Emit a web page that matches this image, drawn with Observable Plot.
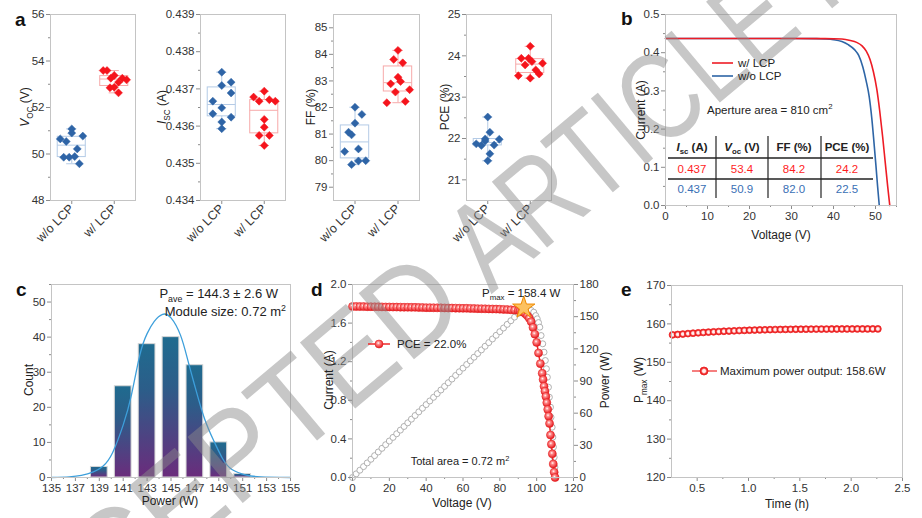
<!DOCTYPE html>
<html>
<head>
<meta charset="utf-8">
<script src="https://cdn.jsdelivr.net/npm/d3@7"></script>
<script src="https://cdn.jsdelivr.net/npm/@observablehq/plot@0.6"></script>
<style>
html,body{margin:0;padding:0;background:#fff;}
#fig{position:relative;width:922px;height:518px;overflow:hidden;background:#fff;font-family:"Liberation Sans",Arial,sans-serif;}
</style>
</head>
<body>
<svg width="0" height="0" style="position:absolute">
<defs>
<linearGradient id="barGrad" x1="0" y1="0" x2="0" y2="1">
<stop offset="0" stop-color="#1f6b8f"/><stop offset="0.35" stop-color="#2c5d89"/><stop offset="1" stop-color="#6b2c7c"/>
</linearGradient>
<radialGradient id="sphere" cx="0.42" cy="0.38" r="0.62">
<stop offset="0" stop-color="#ffffff"/><stop offset="0.3" stop-color="#ff8a8a"/><stop offset="1" stop-color="#e3161c"/>
</radialGradient>
<radialGradient id="ring" cx="0.5" cy="0.5" r="0.5">
<stop offset="0" stop-color="#ffffff"/><stop offset="0.4" stop-color="#ffdede"/><stop offset="0.7" stop-color="#f23a3a"/><stop offset="1" stop-color="#e8161c"/>
</radialGradient>
</defs>
</svg>
<div id="fig"></div>
<script>
// ---------------- data ----------------
const groups = ["w/o LCP", "w/ LCP"];

const vocWo = [51.08, 50.90, 50.77, 50.65, 50.54, 50.22, 49.86, 49.86, 49.89, 49.58];
const vocWoJit = [0, 0, 0.26, -0.27, -0.13, 0.13, -0.19, -0.06, 0.07, 0.18];
const vocW = [53.59, 53.59, 53.38, 53.26, 53.26, 53.19, 53.09, 52.87, 52.85, 52.63];
const vocWJit = [-0.26, -0.17, 0, -0.08, 0.19, 0.29, 0.10, 0, -0.10, 0.10];

const iscWo = [0.43745, 0.43718, 0.43709, 0.43689, 0.43667, 0.43649, 0.43633, 0.43624, 0.43611, 0.43593];
const iscWoJit = [0, 0.22, 0, 0.22, -0.21, 0, -0.21, 0.22, 0, 0];
const iscW = [0.43694, 0.43678, 0.43667, 0.43671, 0.43667, 0.43618, 0.43597, 0.43575, 0.43575, 0.43548];
const iscWJit = [0, -0.25, -0.12, 0.12, 0.26, 0, 0, -0.12, 0.12, 0];

const ffWo = [82.01, 81.74, 81.41, 81.07, 80.97, 80.44, 80.34, 79.99, 80.00, 79.85];
const ffWoJit = [0, 0.16, 0, -0.15, -0.08, 0.08, -0.24, 0.08, 0.25, -0.08];
const ffW = [84.15, 83.81, 83.68, 83.14, 82.98, 82.89, 82.67, 82.58, 82.18, 82.23];
const ffWJit = [0, -0.10, 0.11, 0, 0.06, -0.17, 0.27, -0.06, -0.26, 0.17];

const pceWo = [22.52, 22.15, 21.98, 21.99, 21.87, 21.83, 21.94, 21.84, 21.63, 21.46];
const pceWoJit = [0, 0.05, 0.27, -0.06, -0.27, -0.15, -0.06, 0.15, 0.05, 0];
const pceW = [24.23, 23.94, 23.94, 23.86, 23.82, 23.78, 23.66, 23.56, 23.52, 23.46];
const pceWJit = [0, -0.21, -0.04, 0.04, 0.29, -0.12, 0.13, 0.21, -0.28, 0];

// panel b : I-V of small modules
const ivWithV = [0, 10, 20, 30, 38, 42, 44, 45.5, 46.8, 47.8, 48.7, 49.5, 50.3, 51.0, 51.7, 52.3, 52.9, 53.4];
const ivWithI = [0.437, 0.437, 0.437, 0.437, 0.4368, 0.4358, 0.432, 0.427, 0.418, 0.404, 0.382, 0.350, 0.305, 0.248, 0.180, 0.115, 0.050, 0];
const ivWoV = [0, 10, 20, 30, 36, 38, 40, 42, 43.5, 45, 46, 47, 47.8, 48.5, 49.1, 49.6, 50.1, 50.5, 50.9];
const ivWoI = [0.437, 0.437, 0.437, 0.437, 0.4368, 0.436, 0.434, 0.429, 0.421, 0.408, 0.393, 0.362, 0.325, 0.285, 0.230, 0.170, 0.105, 0.050, 0];
const tableHead = ["Isc (A)", "Voc (V)", "FF (%)", "PCE (%)"];
const tableWith = ["0.437", "53.4", "84.2", "24.2"];
const tableWithout = ["0.437", "50.9", "82.0", "22.5"];

// panel c : histogram
const powerBins = [139, 141, 143, 145, 147, 149, 151];
const binCounts = [3, 26, 38, 40, 32, 10, 1];
const fitPower = [135, 136.5, 137.5, 138.5, 139.3, 140.1, 141.0, 141.7, 142.4, 143.0, 143.6, 144.3, 145.0, 145.8, 146.4, 147.0, 147.8, 148.6, 149.3, 150.1, 151.3, 152.5, 155];
const fitCount = [0, 0.2, 0.6, 1.6, 3.2, 7.0, 15.0, 23.7, 35.0, 41.0, 44.5, 46.5, 45.5, 40.5, 33.5, 26.0, 16.8, 10.3, 5.5, 2.3, 0.7, 0.2, 0];

// panel d : large module I-V and P-V
const dVolt = [0,2,4,6,8,10,12,14,16,18,20,22,24,26,28,30,32,34,36,38,40,42,44,46,48,50,52,54,56,58,60,62,64,66,68,70,72,74,76,78,80,82,84,86,88,
  90,91,92,93,94,95,96,97,98,99,100,101,102,103,103.5,104,104.5,105,105.5,106,106.5,107,107.5,108,108.5,109,109.5,110];
const dCurr = [1.772,1.772,1.771,1.771,1.770,1.770,1.769,1.769,1.768,1.767,
  1.767,1.766,1.766,1.765,1.764,1.764,1.763,1.763,1.762,1.761,
  1.760,1.760,1.759,1.758,1.758,1.757,1.756,1.756,1.755,1.754,
  1.753,1.753,1.752,1.751,1.750,1.749,1.748,1.747,1.746,1.745,
  1.744,1.742,1.740,1.738,1.735,
  1.730,1.726,1.720,1.710,1.695,1.675,1.650,1.615,1.555,1.485,1.400,1.290,1.180,1.080,
  1.015,0.945,0.895,0.840,0.775,0.705,0.635,0.560,0.440,0.345,0.245,0.140,0.055,0.0];
const pVolt = [0,2,4,6,8,10,12,14,16,18,20,22,24,26,28,30,32,34,36,38,40,42,44,46,48,50,52,54,56,58,60,62,64,66,68,70,72,74,76,78,80,82,84,86,88,90,92,
  93,94,95.7,97,98.4,99.5,100.3,101,101.7,102.4,103.3,104,104.7,105.3,105.8,106.4,106.9,107.5,107.8,108.4,108.8,109.1,109.5,109.9,110.1];
const pPower = [0,3.4,6.8,10.2,13.6,17.0,20.4,23.8,27.2,30.6,34.0,37.4,40.8,44.2,47.6,51.0,54.4,57.8,61.2,64.6,68.0,71.4,74.8,78.2,81.6,85.0,88.4,91.8,95.2,98.6,102.0,105.4,108.8,112.2,115.6,119.0,122.4,125.8,129.2,132.6,136.0,139.4,142.8,146.2,149.6,153.0,156.4,
  158.4,158.2,157.3,155.8,154.2,151.0,148.0,144.5,140.2,132.4,124.7,116.9,109.1,101.4,93.5,84.2,74.9,65.6,56.2,46.9,37.6,28.3,18.9,9.6,0.3];
const pMaxPoint = {v: 93, p: 158.4};

// panel e : maximum power tracking
const eTime = [0.26,0.31,0.36,0.41,0.46,0.51,0.56,0.61,0.66,0.71,0.76,0.81,0.86,0.91,0.96,1.01,1.06,1.11,1.16,1.21,1.26,1.31,1.36,1.41,1.46,1.51,1.56,1.61,1.66,1.71,1.76,1.81,1.86,1.91,1.96,2.01,2.06,2.11,2.16,2.21,2.26];
const ePmax = [157.15,157.25,157.36,157.47,157.58,157.68,157.77,157.86,157.94,158.01,158.08,158.14,158.20,158.26,158.31,158.36,158.40,158.44,158.47,158.50,158.53,158.55,158.57,158.59,158.61,158.62,158.63,158.64,158.65,158.66,158.66,158.67,158.67,158.68,158.68,158.68,158.69,158.69,158.69,158.70,158.70];

// ---------------- helpers ----------------
const FONT = "Liberation Sans, Arial, sans-serif";
const fig = document.getElementById("fig");
const baseStyle = {background: "transparent", fontFamily: FONT, fontSize: "11.5px", color: "#333", overflow: "visible"};
const AX = {stroke: "#8c8c8c", fill: "#333", tickSize: 4, tickPadding: 2, label: null};
const FRAME = Plot.frame({stroke: "#c4c4c4"});
function minorY(ticks, anchor = "left") { return Plot.axisY({anchor, ticks, tickSize: 2, stroke: "#8c8c8c", fill: "none", label: null}); }
function minorX(ticks) { return Plot.axisX({ticks, tickSize: 2, stroke: "#8c8c8c", fill: "none", label: null}); }
function place(svg, left, top) {
  svg.style.position = "absolute"; svg.style.left = left + "px"; svg.style.top = top + "px";
  fig.appendChild(svg); return svg;
}
function boxMarks(vals, jit, idx, light, dark) {
  const s = vals.slice().sort(d3.ascending);
  const st = [{i: idx, q1: d3.quantile(s, 0.25), md: d3.quantile(s, 0.5), q3: d3.quantile(s, 0.75), lo: s[0], hi: s[s.length - 1]}];
  const hw = 0.33, cw = 0.12;
  return [
    Plot.rect(st, {x1: d => d.i - hw, x2: d => d.i + hw, y1: "q1", y2: "q3", fill: "none", stroke: light}),
    Plot.ruleY(st, {y: "md", x1: d => d.i - hw, x2: d => d.i + hw, stroke: light}),
    Plot.ruleX(st, {x: "i", y1: "q3", y2: "hi", stroke: light}),
    Plot.ruleX(st, {x: "i", y1: "lo", y2: "q1", stroke: light}),
    Plot.ruleY(st, {y: "hi", x1: d => d.i - cw, x2: d => d.i + cw, stroke: light}),
    Plot.ruleY(st, {y: "lo", x1: d => d.i - cw, x2: d => d.i + cw, stroke: light}),
    Plot.dot(vals, {x: (d, k) => idx + jit[k], y: d => d, symbol: "diamond2", r: 3.6, fill: dark, stroke: dark, strokeWidth: 0.5})
  ];
}
function range(a, b, s) { const out = []; for (let v = a; v <= b + s / 1000; v += s) out.push(+v.toFixed(6)); return out; }

// ---------------- panel a ----------------
function panelA(left, width, ml, dom, major, minor, fmt, wo, woJ, w, wJ) {
  const p = Plot.plot({
    width, height: 260, marginLeft: ml, marginRight: 10, marginTop: 14, marginBottom: 60,
    x: {domain: [0.5, 2.5]}, y: {domain: dom},
    style: baseStyle,
    marks: [
      ...boxMarks(wo, woJ, 1, "#b4cbe6", "#2e64a6"),
      ...boxMarks(w, wJ, 2, "#f7a9a9", "#f5141c"),
      Plot.axisY({...AX, ticks: major, tickFormat: fmt}),
      minorY(minor),
      Plot.axisX({...AX, ticks: [1, 2], tickFormat: i => groups[i - 1], tickRotate: -45, fontSize: 12.5}),
      FRAME
    ]
  });
  place(p, left, 0);
}
panelA(0, 145, 50, [48, 56], range(48, 56, 2), range(49, 55, 2), d => String(d), vocWo, vocWoJit, vocW, vocWJit);
panelA(145, 150, 55, [0.434, 0.439], range(0.434, 0.439, 0.001), range(0.4345, 0.4385, 0.001), d3.format(".3f"), iscWo, iscWoJit, iscW, iscWJit);
panelA(295, 134, 38, [78.5, 85.5], range(79, 85, 1), range(79.5, 84.5, 1), d => String(d), ffWo, ffWoJit, ffW, ffWJit);
panelA(429, 132, 37, [20.5, 25], range(21, 25, 1), range(21.5, 24.5, 1), d => String(d), pceWo, pceWoJit, pceW, pceWJit);

// ---------------- panel b ----------------
const bWith = ivWithV.map((v, k) => ({v, i: ivWithI[k]}));
const bWo = ivWoV.map((v, k) => ({v, i: ivWoI[k]}));
place(Plot.plot({
  width: 312, height: 250, marginLeft: 55, marginRight: 26, marginTop: 14, marginBottom: 45,
  x: {domain: [0, 55]}, y: {domain: [0, 0.5]},
  style: baseStyle,
  marks: [
    Plot.line(bWo, {x: "v", y: "i", stroke: "#2e65a6", strokeWidth: 1.6, curve: "monotone-x"}),
    Plot.line(bWith, {x: "v", y: "i", stroke: "#ee1c25", strokeWidth: 1.6, curve: "monotone-x"}),
    Plot.axisY({...AX, ticks: range(0, 0.5, 0.1), tickFormat: d3.format(".1f")}),
    minorY(range(0.05, 0.45, 0.1)),
    Plot.axisX({...AX, ticks: range(0, 50, 10)}),
    minorX(range(5, 55, 10)),
    FRAME
  ]
}), 610, 0);

// ---------------- panel c ----------------
const bins = powerBins.map((p, k) => ({p, n: binCounts[k]}));
const fit = fitPower.map((x, k) => ({x, y: fitCount[k]}));
place(Plot.plot({
  width: 300, height: 248, marginLeft: 51, marginRight: 10, marginTop: 14, marginBottom: 41,
  x: {domain: [135, 155]}, y: {domain: [0, 55]},
  style: baseStyle,
  marks: [
    Plot.rect(bins, {x1: d => d.p - 0.7, x2: d => d.p + 0.7, y1: 0, y2: "n", fill: "url(#barGrad)", stroke: "#d6d6d6", strokeWidth: 1}),
    Plot.line(fit, {x: "x", y: "y", curve: "natural", stroke: "#3d9fdb", strokeWidth: 1.3}),
    Plot.axisY({...AX, ticks: range(0, 50, 10)}),
    minorY(range(5, 55, 10)),
    Plot.axisX({...AX, ticks: range(135, 155, 2)}),
    minorX(range(136, 154, 2)),
    FRAME
  ]
}), 0, 270);

// ---------------- panel d ----------------
const dIV = dVolt.map((v, k) => ({v, i: dCurr[k]}));
const dPV = pVolt.map((v, k) => ({v, p: pPower[k]}));
const dOpts = {width: 310, height: 248, marginLeft: 52, marginRight: 37, marginTop: 14, marginBottom: 41, style: baseStyle};
place(Plot.plot({
  ...dOpts, x: {domain: [0, 120], axis: null}, y: {domain: [0, 180]},
  marks: [
    Plot.dot(dPV, {x: "v", y: "p", r: 3, fill: "white", stroke: "#a8a8a8", strokeWidth: 0.9}),
    Plot.axisY({...AX, anchor: "right", ticks: range(0, 180, 30)}),
    minorY(range(15, 165, 30), "right")
  ]
}), 300, 270);
place(Plot.plot({
  ...dOpts, x: {domain: [0, 120]}, y: {domain: [0, 2]},
  marks: [
    Plot.line(dIV, {x: "v", y: "i", stroke: "#ee2a2a", strokeWidth: 1.5}),
    Plot.dot(dIV, {x: "v", y: "i", r: 4, fill: "url(#sphere)", stroke: "#e52020", strokeWidth: 0.6}),
    Plot.axisY({...AX, ticks: range(0, 2, 0.4), tickFormat: d3.format(".1f")}),
    minorY(range(0.2, 1.8, 0.4)),
    Plot.axisX({...AX, ticks: range(0, 120, 20)}),
    minorX(range(10, 110, 20)),
    FRAME
  ]
}), 300, 270);
place(Plot.plot({
  ...dOpts, x: {domain: [0, 120], axis: null}, y: {domain: [0, 180], axis: null},
  marks: [
    Plot.dot([pMaxPoint], {x: "v", y: "p", symbol: "star", r: 7, fill: "#fcc160", stroke: "#f08a00", strokeWidth: 1})
  ]
}), 300, 270);

// ---------------- panel e ----------------
const eData = eTime.map((t, k) => ({t, p: ePmax[k]}));
place(Plot.plot({
  width: 312, height: 248, marginLeft: 61, marginRight: 20, marginTop: 15, marginBottom: 41,
  x: {domain: [0.25, 2.5]}, y: {domain: [120, 170]},
  style: baseStyle,
  marks: [
    Plot.line(eData, {x: "t", y: "p", stroke: "#ee2a2a", strokeWidth: 1.2}),
    Plot.dot(eData, {x: "t", y: "p", r: 3.4, fill: "url(#ring)", stroke: "#ec1f1f", strokeWidth: 0.8}),
    Plot.axisY({...AX, ticks: range(120, 170, 10)}),
    minorY(range(125, 165, 10)),
    Plot.axisX({...AX, ticks: range(0.5, 2.5, 0.5), tickFormat: d3.format(".1f")}),
    minorX(range(0.75, 2.25, 0.5)),
    FRAME
  ]
}), 610, 270);

// ---------------- annotations overlay ----------------
const ann = d3.select(fig).append("svg")
  .attr("width", 922).attr("height", 518)
  .style("position", "absolute").style("left", "0px").style("top", "0px")
  .style("pointer-events", "none").style("font-family", FONT);

function rich(x, y, parts, {size = 12, anchor = "start", rotate = 0, fill = "#222", weight = "normal"} = {}) {
  const t = ann.append("text")
    .attr("transform", `translate(${x},${y}) rotate(${rotate})`)
    .attr("text-anchor", anchor).attr("font-size", size).attr("fill", fill).attr("font-weight", weight);
  let shift = 0;
  for (const p of parts) {
    const [s, f = ""] = Array.isArray(p) ? p : [p, ""];
    const flags = f.split(" ");
    const target = flags.includes("sub") ? size * 0.3 : flags.includes("sup") ? -size * 0.4 : 0;
    const ts = t.append("tspan").text(s);
    if (target !== shift) { ts.attr("dy", target - shift); shift = target; }
    if (flags.includes("sub") || flags.includes("sup")) ts.attr("font-size", size * 0.68);
    if (flags.includes("i")) ts.attr("font-style", "italic");
    if (flags.includes("b")) ts.attr("font-weight", "bold");
  }
  return t;
}
const LBL = {size: 12, anchor: "middle", fill: "#222"};
const ROT = {...LBL, rotate: -90};

// watermark
const wm = ann.append("g").attr("fill", "#8a8a8a").attr("fill-opacity", 0.48).attr("font-size", 125).attr("font-family", FONT);
wm.append("text").attr("transform", "translate(481,303) rotate(-40) scale(0.92,1)").attr("x", -15).attr("text-anchor", "end").text("ACCEPTED");
wm.append("text").attr("transform", "translate(481,303) rotate(-40) scale(0.78,1)").attr("x", 17).attr("text-anchor", "start").text("ARTICLE PREVIEW");

// panel letters
[["a", 15, 26], ["b", 621, 25], ["c", 16, 296], ["d", 311, 296], ["e", 621, 296]]
  .forEach(([s, x, y]) => rich(x, y, [s], {size: 19, weight: "bold", fill: "#111"}));

// panel a labels
rich(29, 107, [["V", "i"], ["OC", "sub"], " (V)"], ROT);
rich(166, 107, [["I", "i"], ["SC", "sub"], " (A)"], ROT);
rich(315, 107, ["FF (%)"], ROT);
rich(449, 107, ["PCE (%)"], ROT);

// panel b
rich(645, 110, ["Current (A)"], ROT);
rich(781, 239, ["Voltage (V)"], LBL);
ann.append("line").attr("x1", 712).attr("x2", 733).attr("y1", 63).attr("y2", 63).attr("stroke", "#ee1c25").attr("stroke-width", 1.6);
ann.append("line").attr("x1", 712).attr("x2", 733).attr("y1", 76).attr("y2", 76).attr("stroke", "#2e65a6").attr("stroke-width", 1.6);
rich(738, 67, [groups[1]], {size: 11.5});
rich(738, 80, [groups[0]], {size: 11.5});
rich(707, 114, ["Aperture area = 810 cm", ["2", "sup"]], {size: 11.5});
[716, 768, 821].forEach(x => ann.append("line").attr("x1", x).attr("x2", x).attr("y1", 136).attr("y2", 198).attr("stroke", "#333").attr("stroke-width", 1.3));
[158, 179].forEach(y => ann.append("line").attr("x1", 668).attr("x2", 873).attr("y1", y).attr("y2", y).attr("stroke", "#222").attr("stroke-width", 1.3));
const colX = [692, 742, 794, 847];
const headParts = [
  [["I", "i b"], ["sc", "sub b"], [" (A)", "b"]],
  [["V", "i b"], ["oc", "sub b"], [" (V)", "b"]],
  [[tableHead[2], "b"]],
  [[tableHead[3], "b"]]
];
headParts.forEach((p, k) => rich(colX[k], 151, p, {size: 11.5, anchor: "middle", fill: "#222"}));
tableWith.forEach((s, k) => rich(colX[k], 173, [s], {size: 11.5, anchor: "middle", fill: "#ff1e1e"}));
tableWithout.forEach((s, k) => rich(colX[k], 193, [s], {size: 11.5, anchor: "middle", fill: "#3a70b5"}));

// panel c
rich(33, 380, ["Count"], ROT);
rich(170, 505, ["Power (W)"], LBL);
rich(278, 298, ["P", ["ave", "sub"], " = 144.3 ± 2.6 W"], {size: 13, anchor: "end", fill: "#222"});
rich(286, 316, ["Module size: 0.72 m", ["2", "sup"]], {size: 13, anchor: "end", fill: "#222"});

// panel d
rich(333, 380, ["Current (A)"], ROT);
rich(609, 380, ["Power (W)"], ROT);
rich(462, 507, ["Voltage (V)"], LBL);
rich(482, 297, ["P", ["max", "sub"], " = 158.4 W"], {size: 11.5});
ann.append("line").attr("x1", 368).attr("x2", 390).attr("y1", 344).attr("y2", 344).attr("stroke", "#ee2a2a").attr("stroke-width", 1.5);
ann.append("circle").attr("cx", 379).attr("cy", 344).attr("r", 4).attr("fill", "url(#sphere)").attr("stroke", "#e52020").attr("stroke-width", 0.6);
rich(397, 348, ["PCE = 22.0%"], {size: 11.5});
rich(460, 465, ["Total area = 0.72 m", ["2", "sup"]], {size: 11, anchor: "middle"});

// panel e
rich(643, 380, ["P", ["max", "sub"], " (W)"], ROT);
rich(787, 508, ["Time (h)"], LBL);
ann.append("line").attr("x1", 692).attr("x2", 717).attr("y1", 371).attr("y2", 371).attr("stroke", "#ee2a2a").attr("stroke-width", 1.2);
ann.append("circle").attr("cx", 704).attr("cy", 371).attr("r", 4).attr("fill", "url(#ring)").attr("stroke", "#ec1f1f").attr("stroke-width", 0.8);
rich(720, 375, ["Maximum power output: 158.6W"], {size: 11.5});
</script>
</body>
</html>
